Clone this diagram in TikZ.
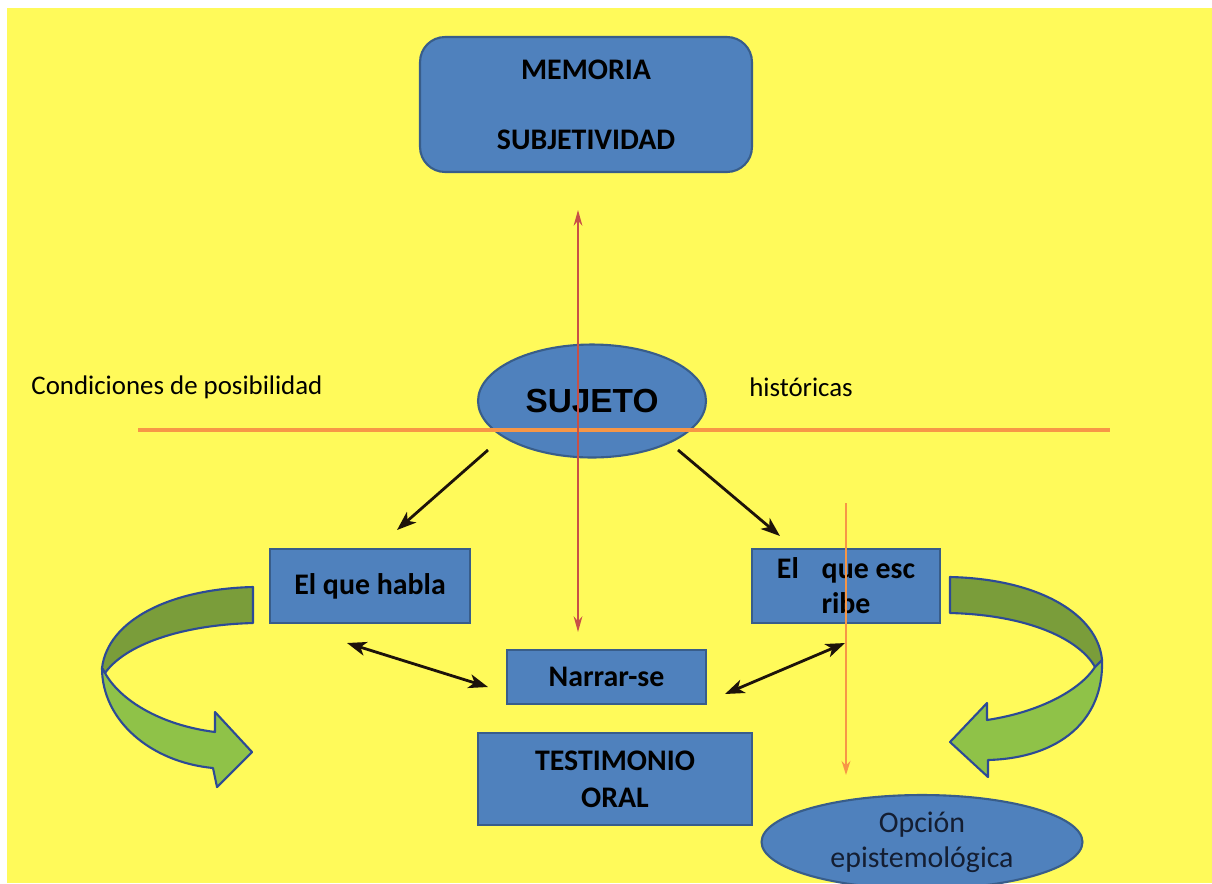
\documentclass[tikz,border=0pt]{standalone}
\usepackage{fontspec}
\setmainfont{Carlito}
\newfontfamily\arialfont{Liberation Sans}
\usetikzlibrary{shapes.geometric,arrows.meta}
\definecolor{bgyellow}{RGB}{255,250,90}
\definecolor{boxblue}{RGB}{79,129,189}
\definecolor{boxedge}{RGB}{56,93,138}
\definecolor{lineorange}{RGB}{247,150,70}
\definecolor{linered}{RGB}{200,80,70}
\definecolor{greendark}{RGB}{122,157,58}
\definecolor{greenlight}{RGB}{143,194,72}
\definecolor{arrowedge}{RGB}{44,74,150}
\definecolor{darktext}{RGB}{20,30,50}
\tikzstyle{box}=[rectangle,fill=boxblue,draw=boxedge,line width=1.2pt,inner sep=0pt,align=center,font=\fontsize{17}{20}\selectfont\bfseries,anchor=center]
\tikzstyle{oval}=[ellipse,fill=boxblue,draw=boxedge,line width=1.2pt,inner sep=0pt,align=center]
\tikzstyle{annot}=[align=center,font=\fontsize{15.3}{18}\selectfont]
\tikzstyle{link}=[line width=1.6pt,black!85!brown]
\tikzstyle{curved}=[draw=arrowedge,line width=1.2pt,line join=round]
\begin{document}
\begin{tikzpicture}[x=0.02cm,y=-0.02cm]
	\useasboundingbox (0,0) rectangle (1212,883);
	\fill[white] (0,0) rectangle (1212,883);
	\fill[bgyellow] (7,8) rectangle (1212,883);

	\node[box, rounded corners=0.5cm, minimum width=6.64cm, minimum height=2.7cm](memoria) at (586,104.5){MEMORIA\\[20pt]SUBJETIVIDAD};
	\node[oval, minimum width=4.56cm, minimum height=2.26cm, font=\arialfont\fontsize{19}{22}\selectfont\bfseries](sujeto) at (592,401){SUJETO};
	\node[box, minimum width=4cm, minimum height=1.48cm](habla) at (370,586){El que habla};
	\node[box, minimum width=3.76cm, minimum height=1.48cm](escribe) at (846,586){El\hspace{13pt}que esc\\ribe};
	\node[box, minimum width=3.98cm, minimum height=1.08cm](narrar) at (606.5,677){Narrar-se};
	\node[box, minimum width=5.48cm, minimum height=1.84cm](testimonio) at (615,779){TESTIMONIO\\[1pt]ORAL};
	\node[oval, minimum width=6.42cm, minimum height=1.88cm, font=\fontsize{17}{20}\selectfont, text=darktext](opcion) at (922,842){Opción\\epistemológica};

	\node[annot](condiciones) at (177,387){Condiciones de posibilidad};
	\node[annot](historicas) at (801,387){históricas};

	% free ends of the connectors
	\coordinate (hl) at (138,430);
	\coordinate (hr) at (1110,430);
	\coordinate (redtop) at (578,210);
	\coordinate (redbot) at (578,632);
	\coordinate (s1) at (488,450);
	\coordinate (t1) at (397,530);
	\coordinate (s2) at (678,450);
	\coordinate (t2) at (780,536);
	\coordinate (d1) at (347,643);
	\coordinate (d2) at (488,687);
	\coordinate (d3) at (845,643);
	\coordinate (d4) at (725,694);
	\coordinate (ot) at (846,503);
	\coordinate (ob) at (846,775);

	\draw[lineorange, line width=1.8pt] (hl) -- (hr);
	\draw[linered, line width=0.9pt, {Stealth[length=9pt,width=5pt]}-{Stealth[length=9pt,width=5pt]}] (redtop) -- (redbot);
	\draw[link, -{Stealth[length=11pt,width=8pt,inset=3pt]}] (s1) -- (t1);
	\draw[link, -{Stealth[length=11pt,width=8pt,inset=3pt]}] (s2) -- (t2);
	\draw[link, {Stealth[length=11pt,width=8pt,inset=3pt]}-{Stealth[length=11pt,width=8pt,inset=3pt]}] (d1) -- (d2);
	\draw[link, {Stealth[length=11pt,width=8pt,inset=3pt]}-{Stealth[length=11pt,width=8pt,inset=3pt]}] (d3) -- (d4);
	\draw[lineorange, line width=1.2pt, -{Stealth[length=8pt,width=5pt]}] (ot) -- (ob);

	% left turning arrow
	\filldraw[curved, fill=greendark] (253,587) .. controls (170,589) and (108,620) .. (102,668) -- (105,673) .. controls (125,645) and (180,625) .. (253,623) -- cycle;
	\filldraw[curved, fill=greenlight] (102,668) .. controls (102,720) and (150,762) .. (213,768) -- (217,787) -- (252,752) -- (215,712) -- (215,732) .. controls (160,725) and (120,700) .. (105,673) -- cycle;
	% right turning arrow
	\filldraw[curved, fill=greendark] (950,577) .. controls (1040,579) and (1098,615) .. (1102,660) -- (1095,667) .. controls (1080,640) and (1030,615) .. (950,613) -- cycle;
	\filldraw[curved, fill=greenlight] (1102,660) .. controls (1104,720) and (1060,758) .. (988,760) -- (988,777) -- (950,742) -- (987,703) -- (987,720) .. controls (1040,712) and (1080,690) .. (1095,667) -- cycle;

\end{tikzpicture}
\end{document}
